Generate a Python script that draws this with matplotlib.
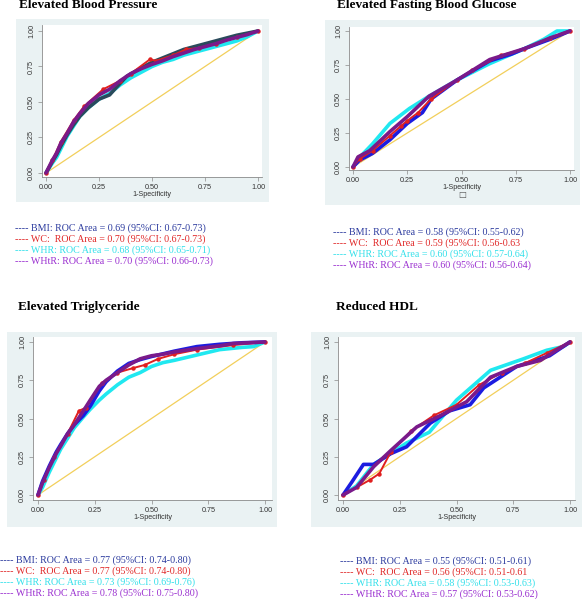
import matplotlib
matplotlib.use("Agg")
import matplotlib.pyplot as plt
from matplotlib.patches import Rectangle

W, H = 582, 599

titles = ["Elevated Blood Pressure", "Elevated Fasting Blood Glucose",
          "Elevated Triglyceride", "Reduced HDL"]
ticks = [0.0, 0.25, 0.5, 0.75, 1.0]
tick_labels = ["0.00", "0.25", "0.50", "0.75", "1.00"]

# ROC curves: (1-specificity, sensitivity)
bp_bmi_x = [0, 0.03, 0.05, 0.07, 0.10, 0.13, 0.16, 0.20, 0.25, 0.30, 0.33, 0.38, 0.45, 0.50, 0.55, 0.60, 0.65, 0.70, 0.75, 0.80, 0.85, 0.90, 0.95, 1.0]
bp_bmi_y = [0, 0.08, 0.13, 0.19, 0.27, 0.34, 0.40, 0.46, 0.52, 0.55, 0.60, 0.68, 0.74, 0.78, 0.81, 0.84, 0.87, 0.89, 0.91, 0.93, 0.95, 0.97, 0.985, 1.0]
bp_wc_x = [0, 0.03, 0.07, 0.13, 0.18, 0.27, 0.35, 0.40, 0.49, 0.52, 0.60, 0.66, 0.72, 0.80, 0.90, 1.0]
bp_wc_y = [0, 0.09, 0.22, 0.37, 0.47, 0.59, 0.65, 0.70, 0.80, 0.79, 0.83, 0.87, 0.88, 0.91, 0.955, 1.0]
bp_whr_x = [0, 0.03, 0.05, 0.07, 0.10, 0.13, 0.16, 0.20, 0.25, 0.30, 0.35, 0.40, 0.45, 0.50, 0.55, 0.60, 0.65, 0.70, 0.75, 0.80, 0.85, 0.90, 0.95, 1.0]
bp_whr_y = [0, 0.07, 0.11, 0.17, 0.26, 0.33, 0.40, 0.46, 0.52, 0.56, 0.62, 0.67, 0.71, 0.75, 0.78, 0.80, 0.83, 0.85, 0.87, 0.89, 0.91, 0.93, 0.96, 1.0]
bp_whtr_x = [0, 0.03, 0.05, 0.07, 0.10, 0.13, 0.16, 0.20, 0.25, 0.30, 0.35, 0.40, 0.45, 0.50, 0.55, 0.60, 0.65, 0.70, 0.75, 0.80, 0.85, 0.90, 0.95, 1.0]
bp_whtr_y = [0, 0.09, 0.14, 0.21, 0.28, 0.36, 0.42, 0.49, 0.55, 0.59, 0.65, 0.70, 0.735, 0.765, 0.79, 0.82, 0.845, 0.87, 0.89, 0.91, 0.935, 0.955, 0.975, 1.0]

fbg_bmi_x = [0, 0.03, 0.09, 0.17, 0.25, 0.32, 0.36, 0.48, 0.63, 0.73, 0.79, 0.91, 1.0]
fbg_bmi_y = [0, 0.05, 0.10, 0.20, 0.32, 0.40, 0.50, 0.64, 0.78, 0.83, 0.87, 0.94, 1.0]
fbg_wc_x = [0, 0.03, 0.09, 0.17, 0.22, 0.25, 0.30, 0.36, 0.48, 0.55, 0.68, 0.79, 0.91, 1.0]
fbg_wc_y = [0, 0.06, 0.12, 0.23, 0.30, 0.34, 0.40, 0.50, 0.64, 0.71, 0.82, 0.87, 0.95, 1.0]
fbg_whr_x = [0, 0.03, 0.09, 0.17, 0.26, 0.35, 0.48, 0.63, 0.79, 0.88, 0.94, 1.0]
fbg_whr_y = [0, 0.07, 0.17, 0.32, 0.43, 0.52, 0.64, 0.76, 0.87, 0.94, 1.0, 1.0]
fbg_whtr_x = [0, 0.023, 0.077, 0.17, 0.25, 0.35, 0.48, 0.63, 0.79, 0.91, 1.0]
fbg_whtr_y = [0, 0.074, 0.12, 0.26, 0.37, 0.52, 0.64, 0.79, 0.87, 0.95, 1.0]

tg_bmi_x = [0, 0.02, 0.05, 0.08, 0.10, 0.13, 0.16, 0.20, 0.23, 0.27, 0.30, 0.35, 0.40, 0.45, 0.50, 0.60, 0.70, 0.80, 0.90, 1.0]
tg_bmi_y = [0, 0.09, 0.19, 0.28, 0.33, 0.40, 0.46, 0.52, 0.58, 0.68, 0.74, 0.81, 0.86, 0.885, 0.905, 0.94, 0.97, 0.985, 0.995, 1.0]
tg_wc_x = [0, 0.025, 0.07, 0.13, 0.18, 0.21, 0.28, 0.35, 0.42, 0.47, 0.53, 0.60, 0.70, 0.86, 1.0]
tg_wc_y = [0, 0.10, 0.25, 0.40, 0.55, 0.57, 0.73, 0.80, 0.83, 0.85, 0.89, 0.92, 0.95, 0.98, 1.0]
tg_whr_x = [0, 0.02, 0.05, 0.08, 0.10, 0.13, 0.16, 0.20, 0.23, 0.27, 0.30, 0.35, 0.40, 0.45, 0.50, 0.55, 0.60, 0.70, 0.80, 0.90, 0.95, 1.0]
tg_whr_y = [0, 0.05, 0.15, 0.24, 0.30, 0.37, 0.44, 0.51, 0.56, 0.62, 0.66, 0.72, 0.77, 0.80, 0.84, 0.865, 0.88, 0.915, 0.95, 0.965, 0.97, 1.0]
tg_whtr_x = [0, 0.02, 0.05, 0.08, 0.10, 0.13, 0.16, 0.20, 0.23, 0.27, 0.30, 0.35, 0.40, 0.45, 0.50, 0.55, 0.60, 0.70, 0.80, 0.86, 0.93, 1.0]
tg_whtr_y = [0, 0.08, 0.18, 0.27, 0.32, 0.40, 0.46, 0.55, 0.62, 0.71, 0.75, 0.80, 0.85, 0.89, 0.91, 0.92, 0.935, 0.957, 0.975, 0.99, 0.995, 1.0]

hdl_bmi_x = [0, 0.04, 0.09, 0.135, 0.21, 0.28, 0.385, 0.47, 0.56, 0.62, 0.765, 0.91, 1.0]
hdl_bmi_y = [0, 0.087, 0.20, 0.20, 0.27, 0.315, 0.47, 0.55, 0.59, 0.70, 0.84, 0.91, 1.0]
hdl_wc_x = [0, 0.06, 0.12, 0.16, 0.21, 0.30, 0.40, 0.50, 0.60, 0.70, 0.80, 0.90, 1.0]
hdl_wc_y = [0, 0.05, 0.10, 0.14, 0.28, 0.42, 0.52, 0.59, 0.72, 0.80, 0.86, 0.93, 1.0]
hdl_whr_x = [0, 0.06, 0.135, 0.28, 0.38, 0.50, 0.65, 0.795, 0.897, 0.97, 1.0]
hdl_whr_y = [0, 0.06, 0.20, 0.34, 0.41, 0.62, 0.815, 0.89, 0.946, 0.97, 1.0]
hdl_whtr_x = [0, 0.06, 0.135, 0.21, 0.325, 0.43, 0.545, 0.65, 0.765, 0.87, 0.94, 1.0]
hdl_whtr_y = [0, 0.05, 0.185, 0.29, 0.445, 0.52, 0.61, 0.77, 0.84, 0.88, 0.946, 1.0]

curves = [
    [(bp_bmi_x, bp_bmi_y), (bp_wc_x, bp_wc_y), (bp_whr_x, bp_whr_y), (bp_whtr_x, bp_whtr_y)],
    [(fbg_bmi_x, fbg_bmi_y), (fbg_wc_x, fbg_wc_y), (fbg_whr_x, fbg_whr_y), (fbg_whtr_x, fbg_whtr_y)],
    [(tg_bmi_x, tg_bmi_y), (tg_wc_x, tg_wc_y), (tg_whr_x, tg_whr_y), (tg_whtr_x, tg_whtr_y)],
    [(hdl_bmi_x, hdl_bmi_y), (hdl_wc_x, hdl_wc_y), (hdl_whr_x, hdl_whr_y), (hdl_whtr_x, hdl_whtr_y)],
]

legend_lines = [
    ["BMI: ROC Area = 0.69 (95%CI: 0.67-0.73)", "WC:  ROC Area = 0.70 (95%CI: 0.67-0.73)",
     "WHR: ROC Area = 0.68 (95%CI: 0.65-0.71)", "WHtR: ROC Area = 0.70 (95%CI: 0.66-0.73)"],
    ["BMI: ROC Area = 0.58 (95%CI: 0.55-0.62)", "WC:  ROC Area = 0.59 (95%CI: 0.56-0.63",
     "WHR: ROC Area = 0.60 (95%CI: 0.57-0.64)", "WHtR: ROC Area = 0.60 (95%CI: 0.56-0.64)"],
    ["BMI: ROC Area = 0.77 (95%CI: 0.74-0.80)", "WC:  ROC Area = 0.77 (95%CI: 0.74-0.80)",
     "WHR: ROC Area = 0.73 (95%CI: 0.69-0.76)", "WHtR: ROC Area = 0.78 (95%CI: 0.75-0.80)"],
    ["BMI: ROC Area = 0.55 (95%CI: 0.51-0.61)", "WC:  ROC Area = 0.56 (95%CI: 0.51-0.61",
     "WHR: ROC Area = 0.58 (95%CI: 0.53-0.63)", "WHtR: ROC Area = 0.57 (95%CI: 0.53-0.62)"],
]

line_colors = ["#1c1ce0", "#e02020", "#20e8f0", "#7a1a8a"]
text_colors = ["#2b3a9e", "#e02828", "#33e0ea", "#9a2fd0"]
draw_order = [3, 4, 2, 5]  # cyan lowest, purple on top
bg = "#eaf2f3"

# pixel layout: grey box, data 0/1 in x, data 1/0 in y, white box, title xy, legend xy
panels = [
    dict(grey=(16, 19, 269, 202), dx=(46, 258), dy=(31, 173), white=(42, 25, 262, 177),
         title=(19, 5), leg=(15, 228)),
    dict(grey=(325, 20, 580, 205), dx=(353, 570), dy=(31, 167), white=(349, 27, 574, 170),
         title=(337, 5), leg=(333, 232)),
    dict(grey=(7, 332, 277, 527), dx=(38, 265), dy=(342, 495), white=(33, 337, 272, 500),
         title=(18, 307), leg=(0, 560)),
    dict(grey=(311, 332, 582, 527), dx=(343, 570), dy=(342, 495), white=(338, 337, 575, 500),
         title=(336, 307), leg=(340, 561)),
]

fig = plt.figure(figsize=(W / 100, H / 100), dpi=100)
fig.patch.set_facecolor("white")

for i, p in enumerate(panels):
    gx0, gy0, gx1, gy1 = p["grey"]
    fig.patches.append(Rectangle((gx0 / W, 1 - gy1 / H), (gx1 - gx0) / W, (gy1 - gy0) / H,
                                 transform=fig.transFigure, facecolor=bg, edgecolor="none",
                                 zorder=-5))
    wx0, wy0, wx1, wy1 = p["white"]
    ax = fig.add_axes([wx0 / W, 1 - wy1 / H, (wx1 - wx0) / W, (wy1 - wy0) / H])
    ax.set_facecolor("white")
    x0, x1 = p["dx"]
    y1, y0 = p["dy"]
    sx = x1 - x0
    sy = y0 - y1
    ax.set_xlim((wx0 - x0) / sx, (wx1 - x0) / sx)
    ax.set_ylim((y0 - wy1) / sy, (y0 - wy0) / sy)

    ax.plot([0, 1], [0, 1], color="#f2cf5b", lw=0.9, zorder=1)
    for j, (xs, ys) in enumerate(curves[i]):
        c = line_colors[j]
        if i == 0 and j == 0:
            c = "#2a4a5c"
        if j == 1:
            ax.plot(xs, ys, color=c, lw=1.4, marker="o", ms=2.2, zorder=draw_order[j])
        else:
            ax.plot(xs, ys, color=c, lw=2.6, zorder=draw_order[j], solid_capstyle="round",
                    solid_joinstyle="round")

    for s in ["top", "right"]:
        ax.spines[s].set_visible(False)
    for s in ["left", "bottom"]:
        ax.spines[s].set_color("#8a8a8a")
        ax.spines[s].set_linewidth(0.6)
    ax.set_xticks(ticks)
    ax.set_xticklabels(tick_labels)
    ax.set_yticks(ticks)
    ax.set_yticklabels(tick_labels, rotation=90, va="center")
    ax.tick_params(length=3, width=0.5, color="#8a8a8a", labelsize=5.2, pad=2,
                   labelcolor="#333333")
    for lab in ax.get_xticklabels() + ax.get_yticklabels():
        lab.set_fontfamily("Liberation Sans")
    ax.set_xlabel("1-Specificity", fontsize=5.2, family="Liberation Sans", labelpad=0,
                  color="#333333")

    tx, ty = p["title"]
    fig.text(tx / W, 1 - ty / H, titles[i], fontsize=9.5, fontweight="bold",
             family="Liberation Serif", va="center", ha="left")
    lx, ly = p["leg"]
    for j, t in enumerate(legend_lines[i]):
        fig.text(lx / W, 1 - (ly + j * 11) / H, "---- " + t, fontsize=7.2,
                 family="Liberation Serif", color=text_colors[j], va="center", ha="left")

fig.text(462 / W, 1 - 194 / H, "\u25a1", fontsize=6, family="DejaVu Sans",
         color="#555555", ha="center", va="center")

fig.savefig("out.png", dpi=100)
